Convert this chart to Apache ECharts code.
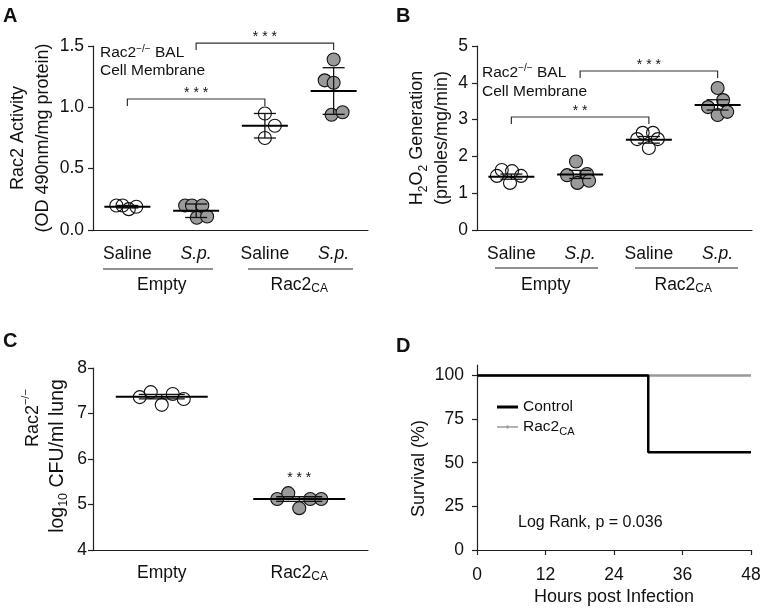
<!DOCTYPE html>
<html><head><meta charset="utf-8">
<script src="https://cdn.jsdelivr.net/npm/echarts@6/dist/echarts.min.js"></script>
<style>html,body{margin:0;padding:0;background:#fff}#c{width:762px;height:609px}</style>
</head><body><div id="c"></div>
<script>
const FONT = "'Liberation Sans', Arial, Helvetica, sans-serif";
const INK = '#111';
const AXIS = '#222';
const GREY = '#9a9a9a';

// ---------- Panel A: Rac2 activity ----------
const abCategories = ['Saline', 'S.p.', 'Saline', 'S.p.'];
const abGroups = ['Empty', 'Rac2CA'];
const abFilled = [false, true, false, true];
const aValues = [
  [0.20, 0.20, 0.17, 0.19],
  [0.20, 0.20, 0.20, 0.10, 0.11],
  [0.95, 0.85, 0.75],
  [1.39, 1.22, 1.20, 0.94, 0.96]
];
const aJitter = [
  [-0.16, -0.07, 0.02, 0.13],
  [-0.16, -0.06, 0.09, 0.01, 0.16],
  [0, 0.145, 0],
  [0, -0.13, 0, -0.03, 0.13]
];
const aMean = [0.19, 0.157, 0.85, 1.133];
const aSD = [0.01, 0.055, 0.10, 0.19];
const aYTicks = [0, 0.5, 1.0, 1.5];
const aBrackets = [
  { from: 1, to: 3, y: 1.524, label: '* * *' },
  { from: 0, to: 2, y: 1.068, label: '* * *' }
];

// ---------- Panel B: H2O2 generation ----------
const bValues = [
  [1.63, 1.60, 1.47, 1.47, 1.28],
  [1.86, 1.49, 1.52, 1.28, 1.34],
  [2.64, 2.64, 2.47, 2.47, 2.23],
  [3.86, 3.53, 3.34, 3.125, 3.21]
];
const bJitter = [
  [-0.14, 0.01, -0.21, 0.14, -0.02],
  [-0.06, -0.19, 0.10, -0.04, 0.13],
  [-0.09, 0.06, -0.17, 0.13, 0],
  [0, 0.08, -0.14, 0, 0.14]
];
const bMean = [1.45, 1.51, 2.45, 3.40];
const bSD = [0.07, 0.11, 0.09, 0.14];
const bYTicks = [0, 1, 2, 3, 4, 5];
const bBrackets = [
  { from: 1, to: 3, y: 4.32, label: '* * *' },
  { from: 0, to: 2, y: 3.07, label: '* *' }
];

// ---------- Panel C: CFU ----------
const cCategories = ['Empty', 'Rac2CA'];
const cFilled = [false, true];
const cValues = [
  [7.36, 7.47, 7.19, 7.43, 7.32],
  [5.12, 5.25, 4.92, 5.12, 5.12]
];
const cJitter = [
  [-0.16, -0.08, 0, 0.08, 0.16],
  [-0.16, -0.08, 0, 0.08, 0.16]
];
const cMean = [7.37, 5.12];
const cSD = [0.05, 0.05];
const cYTicks = [4, 5, 6, 7, 8];
const cStars = [{ x: 1, y: 5.58, label: '* * *' }];

// ---------- Panel D: survival ----------
const dXTicks = [0, 12, 24, 36, 48];
const dYTicks = [0, 25, 50, 75, 100];
const dYMax = 106;
const dControlHours = [0, 30, 48];
const dControlSurvival = [100, 56, 56];
const dRac2Hours = [0, 48];
const dRac2Survival = [100, 100];

// ---------- helpers ----------
const subRich = (lh, fs) => ({ fontSize: fs, fontFamily: FONT, color: INK, verticalAlign: 'bottom', lineHeight: lh });
const supRich = (lh, fs) => ({ fontSize: fs, fontFamily: FONT, color: INK, verticalAlign: 'top', lineHeight: lh });

function catXAxis(grid, data, margin) {
  return {
    type: 'category', gridIndex: grid, data: data, position: 'bottom', boundaryGap: true,
    axisLine: { onZero: false, lineStyle: { color: AXIS, width: 1.2 } },
    axisTick: { alignWithLabel: true, length: 5, lineStyle: { color: AXIS, width: 1.2 } },
    axisLabel: {
      interval: 0, margin: margin, fontSize: 17.5, lineHeight: 20, fontFamily: FONT, color: INK,
      formatter: v => v === 'S.p.' ? '{it|S.p.}' : (v === 'Rac2CA' ? 'Rac2{sub|CA}' : v),
      rich: { it: { fontStyle: 'italic', fontSize: 17.5, fontFamily: FONT, color: INK, lineHeight: 20 }, sub: subRich(11, 12) }
    },
    splitLine: { show: false }
  };
}
function groupXAxis(grid, data) {
  return {
    type: 'category', gridIndex: grid, data: data, position: 'bottom', offset: 37,
    axisLine: { show: false }, axisTick: { show: false },
    axisLabel: {
      interval: 0, margin: 8, fontSize: 17.5, lineHeight: 20, fontFamily: FONT, color: INK,
      formatter: v => v === 'Rac2CA' ? 'Rac2{sub|CA}' : v,
      rich: { sub: subRich(11, 12) }
    },
    splitLine: { show: false }
  };
}
function hiddenValueX(grid, n) {
  return { type: 'value', gridIndex: grid, min: -0.5, max: n - 0.5, show: false, position: 'top' };
}
function valueYAxis(grid, ticks, fmt, margin, name, gap, rich, padding) {
  return {
    type: 'value', gridIndex: grid, min: ticks[0], max: ticks[ticks.length - 1],
    interval: ticks[1] - ticks[0],
    axisLine: { show: true, onZero: false, lineStyle: { color: AXIS, width: 1.2 } },
    axisTick: { show: true, length: 5, lineStyle: { color: AXIS, width: 1.2 } },
    axisLabel: { margin: margin, fontSize: 17.5, fontFamily: FONT, color: INK, formatter: fmt },
    splitLine: { show: false },
    name: name, nameLocation: 'middle', nameRotate: 90, nameGap: gap,
    nameTextStyle: { fontSize: 18, lineHeight: 25, fontFamily: FONT, color: INK, rich: rich || {}, padding: padding || 0 }
  };
}

function scatterSeries(xIdx, yIdx, values, jitter, filled, wantFilled) {
  const data = [];
  values.forEach((grp, i) => {
    if (filled[i] !== wantFilled) return;
    grp.forEach((v, k) => data.push([i + jitter[i][k], v]));
  });
  return {
    type: 'scatter', xAxisIndex: xIdx, yAxisIndex: yIdx, data: data, symbol: 'circle', symbolSize: 13,
    itemStyle: wantFilled ? { color: GREY, borderColor: INK, borderWidth: 1.1, opacity: 1 }
                          : { color: 'rgba(255,255,255,0)', borderColor: INK, borderWidth: 1.1, opacity: 1 },
    emphasis: { disabled: true }, z: 2, silent: true
  };
}
function meanSeries(xIdx, yIdx, means, sds, halfW, capHalf) {
  return {
    type: 'custom', xAxisIndex: xIdx, yAxisIndex: yIdx, z: 3, silent: true,
    data: means.map((m, i) => [i, m, sds[i]]),
    encode: { x: 0, y: 1 },
    renderItem: function (params, api) {
      const x = api.value(0), m = api.value(1), s = api.value(2);
      const c = api.coord([x, m]), hi = api.coord([x, m + s]), lo = api.coord([x, m - s]);
      const st = { stroke: INK, lineWidth: 1.3 };
      return {
        type: 'group', children: [
          { type: 'line', shape: { x1: c[0], y1: hi[1], x2: c[0], y2: lo[1] }, style: st },
          { type: 'line', shape: { x1: c[0] - capHalf, y1: hi[1], x2: c[0] + capHalf, y2: hi[1] }, style: st },
          { type: 'line', shape: { x1: c[0] - capHalf, y1: lo[1], x2: c[0] + capHalf, y2: lo[1] }, style: st },
          { type: 'line', shape: { x1: c[0] - halfW, y1: c[1], x2: c[0] + halfW, y2: c[1] }, style: { stroke: '#000', lineWidth: 2 } }
        ]
      };
    }
  };
}
function bracketSeries(xIdx, yIdx, brackets) {
  return {
    type: 'custom', xAxisIndex: xIdx, yAxisIndex: yIdx, z: 3, silent: true, clip: false,
    data: brackets.map(b => [b.from, b.to, b.y]),
    encode: { x: [0, 1], y: 2 },
    renderItem: function (params, api) {
      const b = brackets[params.dataIndex];
      const p = api.coord([api.value(0), api.value(2)]);
      const q = api.coord([api.value(1), api.value(2)]);
      return {
        type: 'group', children: [
          { type: 'polyline', shape: { points: [[p[0], p[1] + 7], [p[0], p[1]], [q[0], q[1]], [q[0], q[1] + 7]] },
            style: { stroke: '#333', lineWidth: 1.2, fill: null } },
          { type: 'text', x: (p[0] + q[0]) / 2, y: p[1] - 6,
            style: { text: b.label, fontSize: 14, fontFamily: FONT, fill: INK, align: 'center', verticalAlign: 'middle' } }
        ]
      };
    }
  };
}
function starSeries(xIdx, yIdx, stars) {
  return {
    type: 'custom', xAxisIndex: xIdx, yAxisIndex: yIdx, z: 3, silent: true, clip: false,
    data: stars.map(s => [s.x, s.y]),
    encode: { x: 0, y: 1 },
    renderItem: function (params, api) {
      const c = api.coord([api.value(0), api.value(1)]);
      return { type: 'text', x: c[0], y: c[1],
        style: { text: stars[params.dataIndex].label, fontSize: 14, fontFamily: FONT, fill: INK, align: 'center', verticalAlign: 'middle' } };
    }
  };
}

const chart = echarts.init(document.getElementById('c'), null, { renderer: 'canvas' });

const option = {
  backgroundColor: '#fff',
  animation: false,
  textStyle: { fontFamily: FONT },
  grid: [
    { left: 93, top: 46, width: 275, height: 184, outerBoundsMode: 'none' },
    { left: 477, top: 46, width: 275, height: 184, outerBoundsMode: 'none' },
    { left: 93, top: 368, width: 275, height: 182, outerBoundsMode: 'none' },
    { left: 477, top: 365, width: 274, height: 185, outerBoundsMode: 'none' }
  ],
  xAxis: [
    catXAxis(0, abCategories, 14),           // 0
    hiddenValueX(0, abCategories.length),    // 1
    groupXAxis(0, abGroups),                 // 2
    catXAxis(1, abCategories, 14),           // 3
    hiddenValueX(1, abCategories.length),    // 4
    groupXAxis(1, abGroups),                 // 5
    catXAxis(2, cCategories, 13),            // 6
    hiddenValueX(2, cCategories.length),     // 7
    {                                        // 8
      type: 'value', gridIndex: 3, min: dXTicks[0], max: dXTicks[dXTicks.length - 1], interval: dXTicks[1] - dXTicks[0],
      position: 'bottom',
      axisLine: { onZero: false, lineStyle: { color: AXIS, width: 1.2 } },
      axisTick: { show: true, length: 5, lineStyle: { color: AXIS, width: 1.2 } },
      axisLabel: { margin: 15, fontSize: 17.5, lineHeight: 20, fontFamily: FONT, color: INK },
      splitLine: { show: false },
      name: 'Hours post Infection', nameLocation: 'middle', nameGap: 37,
      nameTextStyle: { fontSize: 18, lineHeight: 20, fontFamily: FONT, color: INK }
    }
  ],
  yAxis: [
    valueYAxis(0, aYTicks, v => v.toFixed(1), 9, 'Rac2 Activity\n(OD 490nm/mg protein)', 37.5),
    valueYAxis(1, bYTicks, v => String(v), 9, 'H{sub|2}O{sub|2} Generation\n(pmoles/mg/min)', 21.5,
      { sub: subRich(16, 12) }),
    valueYAxis(2, cYTicks, v => String(v), 6, '{r|Rac2}{rsup|−/−}\n{big|log}{sub|10}{big| CFU/ml lung}', 22.5,
      {
        r: { align: 'right', fontSize: 18, fontFamily: FONT, color: INK, lineHeight: 25 },
        rsup: { align: 'right', fontSize: 11, fontFamily: FONT, color: INK, verticalAlign: 'top', lineHeight: 17, padding: [0, 10, 0, 0] },
        big: { fontSize: 19.5, fontFamily: FONT, color: INK, lineHeight: 25 },
        sub: subRich(16, 12.5)
      }, [0, 0, 0, 6]),
    {
      type: 'value', gridIndex: 3, min: dYTicks[0], max: dYMax,
      axisLine: { show: true, onZero: false, lineStyle: { color: AXIS, width: 1.2 } },
      axisTick: { show: true, length: 5, customValues: dYTicks, lineStyle: { color: AXIS, width: 1.2 } },
      axisLabel: { margin: 13, fontSize: 17.5, fontFamily: FONT, color: INK, customValues: dYTicks },
      splitLine: { show: false },
      name: 'Survival (%)', nameLocation: 'middle', nameRotate: 90, nameGap: 48,
      nameTextStyle: { fontSize: 18, lineHeight: 20, fontFamily: FONT, color: INK, padding: [0, 22, 0, 0] }
    }
  ],
  legend: {
    data: [
      { name: 'Control', icon: 'rect' },
      { name: 'Rac2CA', icon: 'path://M0,0.75h21v1.5h-21z M9.5,0h2v3h-2z' }
    ],
    orient: 'vertical', left: 492, top: 392, itemWidth: 21, itemHeight: 3, itemGap: 0,
    selectedMode: false,
    textStyle: { fontSize: 15.5, lineHeight: 20, fontFamily: FONT, color: INK, rich: { sub: subRich(11, 11) } },
    formatter: n => n === 'Rac2CA' ? 'Rac2{sub|CA}' : n
  },
  graphic: [
    { type: 'text', left: 3, top: 6, style: { text: 'A', font: 'bold 20px ' + FONT, fill: INK } },
    { type: 'text', left: 396, top: 6, style: { text: 'B', font: 'bold 20px ' + FONT, fill: INK } },
    { type: 'text', left: 3, top: 331, style: { text: 'C', font: 'bold 20px ' + FONT, fill: INK } },
    { type: 'text', left: 396, top: 336, style: { text: 'D', font: 'bold 20px ' + FONT, fill: INK } },
    { type: 'line', shape: { x1: 103, y1: 269, x2: 213, y2: 269 }, style: { stroke: AXIS, lineWidth: 1.2 } },
    { type: 'line', shape: { x1: 248, y1: 269, x2: 353, y2: 269 }, style: { stroke: AXIS, lineWidth: 1.2 } },
    { type: 'line', shape: { x1: 495, y1: 268, x2: 598, y2: 268 }, style: { stroke: AXIS, lineWidth: 1.2 } },
    { type: 'line', shape: { x1: 635, y1: 268, x2: 738, y2: 268 }, style: { stroke: AXIS, lineWidth: 1.2 } },
    { type: 'text', x: 100, y: 44, z: 10, style: { text: 'Rac2{sup|−/−} BAL\nCell Membrane', fontSize: 15.5, lineHeight: 18,
        fontFamily: FONT, fill: INK, rich: { sup: { fontSize: 10, fontFamily: FONT, fill: INK, verticalAlign: 'top', lineHeight: 10 } } } },
    { type: 'text', x: 482, y: 63.5, z: 10, style: { text: 'Rac2{sup|−/−} BAL\nCell Membrane', fontSize: 15.5, lineHeight: 19,
        fontFamily: FONT, fill: INK, rich: { sup: { fontSize: 10, fontFamily: FONT, fill: INK, verticalAlign: 'top', lineHeight: 11 } } } },
    { type: 'text', x: 518, y: 514, z: 10, style: { text: 'Log Rank, p = 0.036', fontSize: 16, lineHeight: 18, fontFamily: FONT, fill: INK } }
  ],
  series: [
    scatterSeries(1, 0, aValues, aJitter, abFilled, false),
    scatterSeries(1, 0, aValues, aJitter, abFilled, true),
    meanSeries(1, 0, aMean, aSD, 23, 11),
    bracketSeries(1, 0, aBrackets),
    scatterSeries(4, 1, bValues, bJitter, abFilled, false),
    scatterSeries(4, 1, bValues, bJitter, abFilled, true),
    meanSeries(4, 1, bMean, bSD, 23, 11),
    bracketSeries(4, 1, bBrackets),
    scatterSeries(7, 2, cValues, cJitter, cFilled, false),
    scatterSeries(7, 2, cValues, cJitter, cFilled, true),
    meanSeries(7, 2, cMean, cSD, 46, 23),
    starSeries(7, 2, cStars),
    {
      name: 'Rac2CA', type: 'line', xAxisIndex: 8, yAxisIndex: 3, step: 'end', symbol: 'none',
      data: dRac2Hours.map((h, i) => [h, dRac2Survival[i]]),
      color: '#999', lineStyle: { color: '#999', width: 2.5 }, z: 2, silent: true
    },
    {
      name: 'Control', type: 'line', xAxisIndex: 8, yAxisIndex: 3, step: 'end', symbol: 'none',
      data: dControlHours.map((h, i) => [h, dControlSurvival[i]]),
      color: '#000', lineStyle: { color: '#000', width: 2.5 }, z: 3, silent: true
    }
  ]
};
chart.setOption(option);
</script></body></html>
